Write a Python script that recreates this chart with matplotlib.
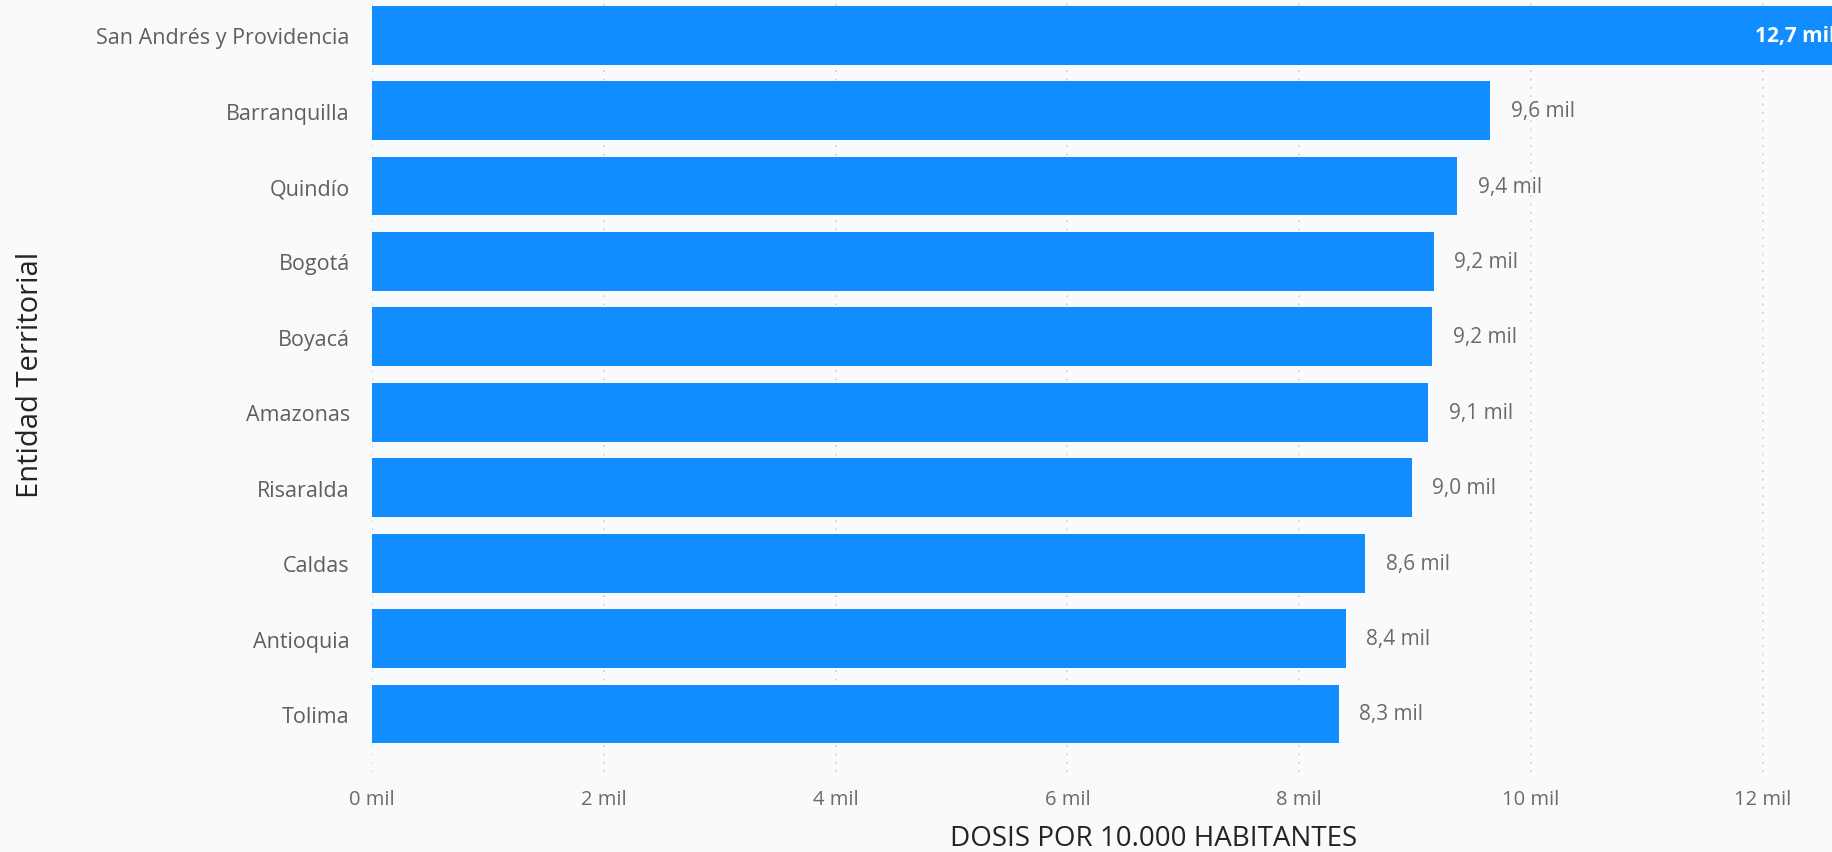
import matplotlib.pyplot as plt
import numpy as np

entidades = ["San Andrés y Providencia", "Barranquilla", "Quindío", "Bogotá", "Boyacá",
             "Amazonas", "Risaralda", "Caldas", "Antioquia", "Tolima"]
dosis = [12.70, 9.65, 9.36, 9.16, 9.15, 9.11, 8.97, 8.57, 8.40, 8.34]  # miles
etiquetas = ["12,7 mil", "9,6 mil", "9,4 mil", "9,2 mil", "9,2 mil",
             "9,1 mil", "9,0 mil", "8,6 mil", "8,4 mil", "8,3 mil"]
xticks = [0, 2, 4, 6, 8, 10, 12]

plt.rcParams['font.family'] = ['Open Sans', 'DejaVu Sans']
bg = '#f9fafc'
azul = '#118dff'

W, H = 1833, 853
fig = plt.figure(figsize=(W/100, H/100), dpi=100, facecolor=bg)
ax = fig.add_axes([372/W, (H-773)/H, (W-372)/W, 773/H])
ax.set_facecolor(bg)

y = np.arange(len(entidades))
ax.barh(y, dosis, height=0.78, color=azul, zorder=2)

ax.set_xlim(0, (W-372)/115.9)
ax.set_ylim(9.77, -0.48)

ax.set_xticks(xticks)
ax.set_xticklabels([f"{t} mil" for t in xticks], color='#6b6b6b', fontsize=14.5)
ax.set_yticks(y)
ax.set_yticklabels(entidades, color='#5f5f5f', fontsize=15.5)
ax.tick_params(axis='both', length=0)
ax.tick_params(axis='y', pad=16)
ax.tick_params(axis='x', pad=12)

for s in ax.spines.values():
    s.set_visible(False)
ax.grid(axis='x', linestyle=(0, (1, 4)), color='#cfcfcf', linewidth=1.2, zorder=0)
ax.grid(axis='y', visible=False)

for i, (v, lab) in enumerate(zip(dosis, etiquetas)):
    if i == 0:
        ax.annotate(lab, (v, i), xytext=(-6, 0), textcoords='offset points',
                    ha='right', va='center', color='white', fontsize=15,
                    fontweight='bold', annotation_clip=False)
    else:
        ax.annotate(lab, (v, i), xytext=(15, 0), textcoords='offset points',
                    ha='left', va='center', color='#6b6b6b', fontsize=15)

fig.text(1154/W, 1-839/H, "DOSIS POR 10.000 HABITANTES", ha='center', va='center',
         fontsize=20, color='#252423')
fig.text(31/W, 1-375/H, "Entidad Territorial", ha='center', va='center',
         rotation=90, fontsize=21, color='#252423')

fig.savefig('out.png', dpi=100, facecolor=bg)
